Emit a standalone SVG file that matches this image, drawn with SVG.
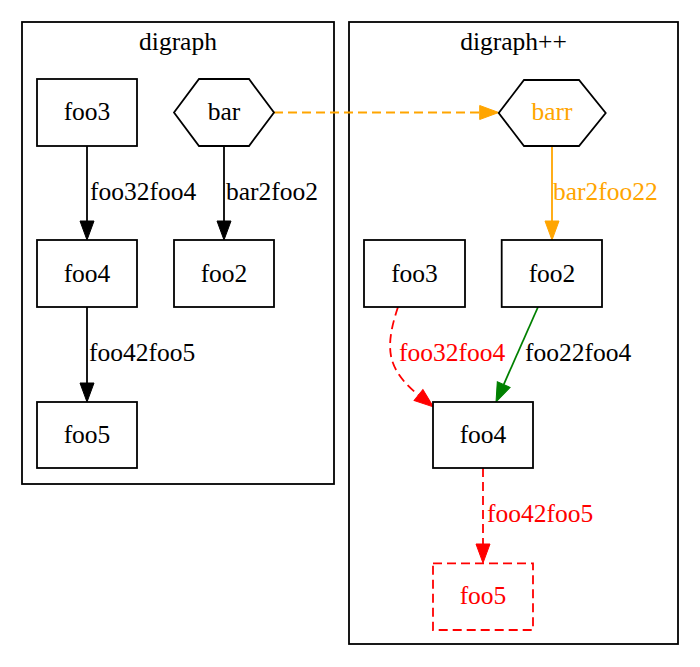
<svg xmlns="http://www.w3.org/2000/svg" width="700" height="667" viewBox="0 0 700 667">
<style>
.n{fill:#fff;stroke:#000;stroke-width:1.8}
.c{fill:none;stroke:#000;stroke-width:1.8}
.m{text-anchor:middle}
.e{fill:none;stroke-width:1.8}
.dash{stroke-dasharray:9,5}
</style>
<defs>
<marker id="ak" markerUnits="userSpaceOnUse" markerWidth="20" markerHeight="16" refX="0" refY="7" orient="auto" overflow="visible"><path d="M0,0 L19,7 L0,14 z" fill="#000" stroke="#000" stroke-width="1"/></marker>
<marker id="ao" markerUnits="userSpaceOnUse" markerWidth="20" markerHeight="16" refX="0" refY="7" orient="auto" overflow="visible"><path d="M0,0 L19,7 L0,14 z" fill="#ffa500" stroke="#ffa500" stroke-width="1"/></marker>
<marker id="ar" markerUnits="userSpaceOnUse" markerWidth="20" markerHeight="16" refX="0" refY="7" orient="auto" overflow="visible"><path d="M0,0 L19,7 L0,14 z" fill="#f00" stroke="#f00" stroke-width="1"/></marker>
<marker id="ag" markerUnits="userSpaceOnUse" markerWidth="20" markerHeight="16" refX="0" refY="7" orient="auto" overflow="visible"><path d="M0,0 L19,7 L0,14 z" fill="#008000" stroke="#008000" stroke-width="1"/></marker>
</defs>
<rect width="700" height="667" fill="#fff"/>
<g font-family="'Liberation Serif', 'Times New Roman', serif" font-size="25.5">
<g id="cluster_left">
<rect class="c" x="22" y="22" width="312" height="462"/>
<text class="m" x="178" y="50">digraph</text>
</g>
<g id="cluster_right">
<rect class="c" x="349" y="22" width="329" height="622"/>
<text class="m" x="513.5" y="50">digraph++</text>
</g>
<g id="edges">
<path class="e" stroke="#000" d="M87,146 L87,221" marker-end="url(#ak)"/>
<text x="90" y="200">foo32foo4</text>
<path class="e" stroke="#000" d="M224,146 L224,221" marker-end="url(#ak)"/>
<text x="226" y="200">bar2foo2</text>
<path class="e" stroke="#000" d="M87,307 L87,383" marker-end="url(#ak)"/>
<text x="89" y="361">foo42foo5</text>
<path class="e dash" stroke="#ffa500" d="M274,112.5 L479.7,112.5" marker-end="url(#ao)"/>
<path class="e" stroke="#ffa500" d="M552,146 L552,221" marker-end="url(#ao)"/>
<text x="553" y="200" fill="#ffa500">bar2foo22</text>
<path class="e dash" stroke="#f00" d="M398,307 C393,322 388,340 391,356 C394,372 406,385 418.5,395" marker-end="url(#ar)"/>
<text x="399" y="361" fill="#f00">foo32foo4</text>
<path class="e" stroke="#008000" d="M538,307 L503.7,384.6" marker-end="url(#ag)"/>
<text x="525" y="361">foo22foo4</text>
<path class="e dash" stroke="#f00" d="M483,468 L483,544" marker-end="url(#ar)"/>
<text x="487" y="522" fill="#f00">foo42foo5</text>
</g>
<g id="l_foo3"><rect class="n" x="37" y="79" width="100" height="67"/><text class="m" x="87" y="120">foo3</text></g>
<g id="l_bar"><polygon class="n" points="174,112.5 199,79 249,79 274,112.5 249,146 199,146"/><text class="m" x="224" y="120">bar</text></g>
<g id="l_foo4"><rect class="n" x="37" y="240" width="100" height="67"/><text class="m" x="87" y="282">foo4</text></g>
<g id="l_foo2"><rect class="n" x="174" y="240" width="100" height="67"/><text class="m" x="224" y="282">foo2</text></g>
<g id="l_foo5"><rect class="n" x="37" y="402" width="100" height="66"/><text class="m" x="87" y="443">foo5</text></g>
<g id="r_barr"><polygon class="n" points="498.7,113 524,80 579,80 605.7,113 579,146 524,146"/><text class="m" x="552" y="120" fill="#ffa500">barr</text></g>
<g id="r_foo3"><rect class="n" x="364" y="240" width="101" height="67"/><text class="m" x="414.5" y="282">foo3</text></g>
<g id="r_foo2"><rect class="n" x="501.7" y="240" width="100.3" height="67"/><text class="m" x="552" y="282">foo2</text></g>
<g id="r_foo4"><rect class="n" x="433" y="402" width="100" height="66"/><text class="m" x="483" y="443">foo4</text></g>
<g id="r_foo5"><rect class="n dash" x="433" y="563.3" width="100" height="66.7" style="stroke:#f00"/><text class="m" x="483" y="604" fill="#f00">foo5</text></g>
</g>
</svg>
